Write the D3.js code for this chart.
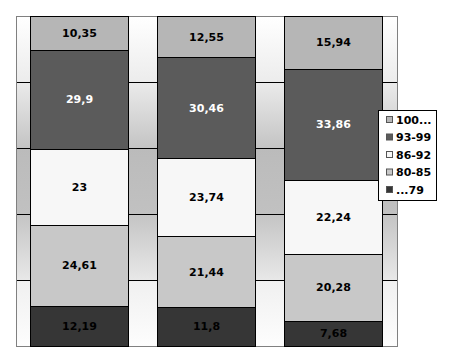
<!DOCTYPE html>
<html>
<head>
<meta charset="utf-8">
<script src="https://cdn.jsdelivr.net/npm/d3@7"></script>
<style>
  html, body { margin: 0; padding: 0; background: #ffffff; }
  svg { display: block; }
  text { font-family: "DejaVu Sans", Verdana, sans-serif; font-weight: bold; font-size: 11px; }
</style>
</head>
<body>
<div id="chart"></div>
<script>
// ---- data ----
const categories = ["1", "2", "3"];
const seriesKeys = ["...79", "80-85", "86-92", "93-99", "100..."];
const valuesLow   = [12.19, 11.8, 7.68];   // ...79
const values80_85 = [24.61, 21.44, 20.28]; // 80-85
const values86_92 = [23, 23.74, 22.24];    // 86-92
const values93_99 = [29.9, 30.46, 33.86];  // 93-99
const values100   = [10.35, 12.55, 15.94]; // 100...
const yTicks = [0, 20, 40, 60, 80, 100];

// ---- styles ----
const fills = {"...79": "#363636", "80-85": "#c8c8c8", "86-92": "#f7f7f7", "93-99": "#5b5b5b", "100...": "#b6b6b6"};
const labelColors = {"...79": "#000", "80-85": "#000", "86-92": "#000", "93-99": "#fff", "100...": "#000"};
const bandGradients = [
  ["#f0f0f0", "#fdfdfd"],
  ["#c4c4c4", "#e8e8e8"],
  ["#bbbbbb", "#c1c1c1"],
  ["#ebebeb", "#c4c4c4"],
  ["#ffffff", "#ececec"]
]; // indexed from the bottom band upward, [top colour, bottom colour]

const W = 457, H = 364;
const plot = {left: 16, right: 397, top: 16, bottom: 346};

const table = categories.map((c, i) => ({
  cat: c,
  "...79": valuesLow[i],
  "80-85": values80_85[i],
  "86-92": values86_92[i],
  "93-99": values93_99[i],
  "100...": values100[i]
}));

const stack = d3.stack().keys(seriesKeys)(table);

const x = d3.scaleBand().domain(categories).range([plot.left, plot.right])
  .paddingInner(0.228).paddingOuter(0.114);
const y = d3.scaleLinear().domain([0, 100]).range([plot.bottom, plot.top]);

const svg = d3.select("#chart").append("svg").attr("width", W).attr("height", H);
const defs = svg.append("defs");

// background bands
const bands = d3.pairs(yTicks);
bands.forEach((b, i) => {
  const g = defs.append("linearGradient").attr("id", "bg" + i)
    .attr("x1", 0).attr("y1", 0).attr("x2", 0).attr("y2", 1);
  g.append("stop").attr("offset", 0).attr("stop-color", bandGradients[i][0]);
  g.append("stop").attr("offset", 1).attr("stop-color", bandGradients[i][1]);
});
svg.append("g").selectAll("rect").data(bands).join("rect")
  .attr("x", plot.left).attr("width", plot.right - plot.left)
  .attr("y", d => y(d[1])).attr("height", d => y(d[0]) - y(d[1]))
  .attr("fill", (d, i) => "url(#bg" + i + ")");

// gridlines
svg.append("g").selectAll("line").data(yTicks.slice(1, -1)).join("line")
  .attr("x1", plot.left).attr("x2", plot.right)
  .attr("y1", d => Math.round(y(d)) + 0.5).attr("y2", d => Math.round(y(d)) + 0.5)
  .attr("stroke", "#000").attr("stroke-width", 1);

// plot border
svg.append("rect")
  .attr("x", plot.left + 0.5).attr("y", plot.top + 0.5)
  .attr("width", plot.right - plot.left).attr("height", plot.bottom - plot.top)
  .attr("fill", "none").attr("stroke", "#808080");

// bars
const layers = svg.append("g").selectAll("g").data(stack).join("g")
  .attr("fill", d => fills[d.key]);
layers.selectAll("rect").data(d => d.map(p => ({p, key: d.key}))).join("rect")
  .attr("x", d => Math.round(x(d.p.data.cat)) + 0.5)
  .attr("width", Math.round(x.bandwidth()))
  .attr("y", d => Math.round(y(Math.min(d.p[1], 100))) + 0.5)
  .attr("height", d => Math.round(y(d.p[0])) - Math.round(y(Math.min(d.p[1], 100))))
  .attr("stroke", "#000").attr("stroke-width", 1);

// labels
const fmt = v => String(v).replace(".", ",");
layers.selectAll("text").data(d => d.map(p => ({p, key: d.key}))).join("text")
  .attr("x", d => x(d.p.data.cat) + x.bandwidth() / 2)
  .attr("y", d => (y(d.p[0]) + y(Math.min(d.p[1], 100))) / 2)
  .attr("dy", "0.36em")
  .attr("text-anchor", "middle")
  .attr("fill", d => labelColors[d.key])
  .text(d => fmt(d.p.data[d.key]));

// legend
const legend = svg.append("g");
legend.append("rect").attr("x", 378.5).attr("y", 110.5).attr("width", 58).attr("height", 90)
  .attr("fill", "#fff").attr("stroke", "#000");
const legendKeys = seriesKeys.slice().reverse();
const li = legend.selectAll("g").data(legendKeys).join("g")
  .attr("transform", (d, i) => `translate(386, ${120 + i * 17.5})`);
li.append("rect").attr("x", 0.5).attr("y", -3.5).attr("width", 6).attr("height", 6)
  .attr("fill", d => fills[d]).attr("stroke", "#555");
li.append("text").attr("x", 10).attr("dy", "0.36em").attr("fill", "#000").text(d => d);
</script>
</body>
</html>
